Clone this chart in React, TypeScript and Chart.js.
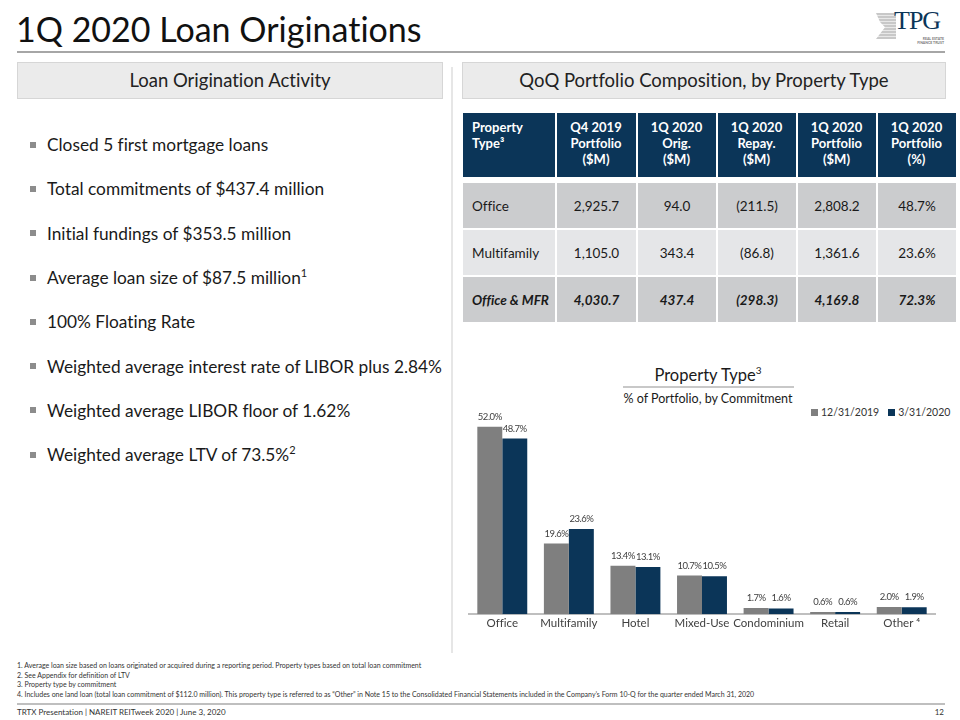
import React, { useEffect, useRef } from "react";
import { Chart, registerables } from "chart.js";

Chart.register(...registerables);

const categories = ["Office", "Multifamily", "Hotel", "Mixed-Use", "Condominium", "Retail", "Other ⁴"];
const dec2019 = [52.0, 19.6, 13.4, 10.7, 1.7, 0.6, 2.0];
const mar2020 = [48.7, 23.6, 13.1, 10.5, 1.6, 0.6, 1.9];
const seriesNames = ["12/31/2019", "3/31/2020"];

const bullets = [
  ["Closed 5 first mortgage loans", ""],
  ["Total commitments of $437.4 million", ""],
  ["Initial fundings of $353.5 million", ""],
  ["Average loan size of $87.5 million", "1"],
  ["100% Floating Rate", ""],
  ["Weighted average interest rate of LIBOR plus 2.84%", ""],
  ["Weighted average LIBOR floor of 1.62%", ""],
  ["Weighted average LTV of 73.5%", "2"],
];

const tableHeaders = [
  ["Property", "Type³"],
  ["Q4 2019", "Portfolio", "($M)"],
  ["1Q 2020", "Orig.", "($M)"],
  ["1Q 2020", "Repay.", "($M)"],
  ["1Q 2020", "Portfolio", "($M)"],
  ["1Q 2020", "Portfolio", "(%)"],
];
const rowOffice = ["Office", "2,925.7", "94.0", "(211.5)", "2,808.2", "48.7%"];
const rowMultifamily = ["Multifamily", "1,105.0", "343.4", "(86.8)", "1,361.6", "23.6%"];
const rowTotal = ["Office & MFR", "4,030.7", "437.4", "(298.3)", "4,169.8", "72.3%"];

const footnotes = [
  "1. Average loan size based on loans originated or acquired during a reporting period. Property types based on total loan commitment",
  "2. See Appendix for definition of LTV",
  "3. Property type by commitment",
  "4. Includes one land loan (total loan commitment of $112.0 million). This property type is referred to as “Other” in Note 15 to the Consolidated Financial Statements included in the Company’s Form 10-Q for the quarter ended March 31, 2020",
];

const GREY = "#7f7f7f";
const NAVY = "#0b3558";
const FONT = "Lato, 'Open Sans', sans-serif";

const labelPlugin = {
  id: "barLabels",
  afterDatasetsDraw(chart: any) {
    const ctx = chart.ctx;
    ctx.save();
    ctx.font = `9.5px ${FONT}`;
    try { (ctx as any).letterSpacing = "-0.5px"; } catch (e) {}
    ctx.fillStyle = "#404040";
    ctx.textAlign = "center";
    ctx.textBaseline = "middle";
    chart.data.datasets.forEach((ds: any, i: number) => {
      const meta = chart.getDatasetMeta(i);
      meta.data.forEach((bar: any, j: number) => {
        ctx.fillText(ds.data[j].toFixed(1) + "%", bar.x, bar.y - 10);
      });
    });
    ctx.restore();
  },
};

function BarChart() {
  const ref = useRef<HTMLCanvasElement | null>(null);
  useEffect(() => {
    if (!ref.current) return;
    const chart = new Chart(ref.current, {
      type: "bar",
      data: {
        labels: categories,
        datasets: [
          { label: seriesNames[0], data: dec2019, backgroundColor: GREY, categoryPercentage: 0.75, barPercentage: 1 },
          { label: seriesNames[1], data: mar2020, backgroundColor: NAVY, categoryPercentage: 0.75, barPercentage: 1 },
        ],
      },
      options: {
        animation: false,
        responsive: false,
        maintainAspectRatio: false,
        layout: { padding: { left: 7, right: 10, top: 0, bottom: 0 } },
        plugins: { legend: { display: false }, tooltip: { enabled: false } },
        scales: {
          x: {
            grid: { display: false, drawTicks: false },
            border: { display: true, color: "#bfbfbf", width: 2 },
            ticks: { color: "#404040", font: { family: FONT, size: 11.5 }, padding: 2, maxRotation: 0, autoSkip: false },
          },
          y: { display: false, min: 0, max: 58.0 },
        },
      },
      plugins: [labelPlugin],
    });
    return () => chart.destroy();
  }, []);
  return <canvas ref={ref} width={483} height={227} style={{ position: "absolute", left: 462, top: 405, width: 483, height: 227 }} />;
}

const abs = (l: number, t: number, extra: any = {}) => ({ position: "absolute" as const, left: l, top: t, ...extra });

const supStyle = { fontSize: 11, lineHeight: 0, position: "relative" as const, top: -7, verticalAlign: "baseline" };

export default function App() {
  const colW = [92, 79, 78, 78, 78, 78];
  const cellBase = { padding: 0, border: "none", fontSize: 13.5, color: "#1a1a1a" };
  const renderRow = (row: string[], bg: string, h: number, italicBold = false) => (
    <tr style={{ height: h }}>
      {row.map((c, i) => (
        <td
          key={i}
          style={{
            ...cellBase,
            background: bg,
            textAlign: i === 0 ? "left" : "center",
            paddingLeft: i === 0 ? 9 : 0,
            fontWeight: italicBold ? 700 : 400,
            fontStyle: italicBold ? "italic" : "normal",
          }}
        >
          {c}
        </td>
      ))}
    </tr>
  );
  return (
    <div style={{ position: "fixed", left: 0, top: 0, width: 960, height: 720, background: "#fff", fontFamily: FONT, color: "#1a1a1a", overflow: "hidden", fontVariantLigatures: "none" }}>
      {/* Title */}
      <div style={abs(16, 5, { fontSize: 34, lineHeight: "48px", color: "#111" })}>1Q 2020 Loan Originations</div>
      <div style={abs(17, 51, { width: 928, height: 2, background: "#a6a6a6" })} />

      {/* Logo */}
      <div style={abs(876, 13, { width: 20, height: 26, background: "repeating-linear-gradient(180deg,#c8c8c8 0 2px,#e8e8e8 2px 3px)", clipPath: "polygon(0 0,100% 0,100% 100%,0 100%,45% 55%,20% 35%)" })} />
      <div style={abs(894, 7, { fontFamily: "'Liberation Serif', serif", fontSize: 26, lineHeight: "27px", color: NAVY, letterSpacing: -1 })}>TPG</div>
      <div style={abs(906, 37, { fontSize: 3.5, lineHeight: "4px", color: "#777", textAlign: "right", width: 38, fontWeight: 700 })}>REAL ESTATE<br />FINANCE TRUST</div>

      {/* Section headers */}
      <div style={abs(17, 62, { width: 424, height: 35, background: "#ebebeb", border: "1px solid #d6d6d6", textAlign: "center", lineHeight: "35px", fontSize: 18.5, color: "#222" })}>Loan Origination Activity</div>
      <div style={abs(462, 62, { width: 482, height: 35, background: "#ebebeb", border: "1px solid #d6d6d6", textAlign: "center", lineHeight: "35px", fontSize: 18.5, color: "#222" })}>QoQ Portfolio Composition, by Property Type</div>
      <div style={abs(451, 67, { width: 2, height: 586, background: "#e6e6e6" })} />

      {/* Bullets */}
      {bullets.map((b, i) => (
        <div key={i} style={abs(30, 134 + i * 44.3, { fontSize: 17.3, lineHeight: "22px", height: 22, color: "#1a1a1a", whiteSpace: "nowrap" })}>
          <span style={{ display: "inline-block", width: 6, height: 6, background: "#8c8c8c", marginRight: 11, verticalAlign: "middle", position: "relative", top: -2 }} />
          {b[0]}
          {b[1] && <span style={supStyle}>{b[1]}</span>}
        </div>
      ))}

      {/* Table */}
      <table style={{ position: "absolute", left: 461, top: 111, borderCollapse: "separate", borderSpacing: 2, tableLayout: "fixed", width: 487 }}>
        <colgroup>
          {colW.map((w, i) => <col key={i} style={{ width: w }} />)}
        </colgroup>
        <tbody>
          <tr style={{ height: 64 }}>
            {tableHeaders.map((h, i) => (
              <td key={i} style={{ background: NAVY, color: "#fff", fontWeight: 700, fontSize: 13, lineHeight: "16px", textAlign: i === 0 ? "left" : "center", verticalAlign: "top", paddingTop: 6, paddingLeft: i === 0 ? 9 : 0, border: "none" }}>
                {h.map((line, k) => <div key={k}>{line}</div>)}
              </td>
            ))}
          </tr>
          <tr style={{ height: 2 }}><td colSpan={6} style={{ padding: 0, height: 0, background: "#fff" }} /></tr>
          {renderRow(rowOffice, "#cbccce", 45)}
          {renderRow(rowMultifamily, "#e5e6e8", 45)}
          {renderRow(rowTotal, "#cbccce", 45, true)}
        </tbody>
      </table>

      {/* Chart titles */}
      <div style={abs(608, 364, { width: 200, textAlign: "center", fontSize: 16.5, lineHeight: "22px", height: 22, color: "#1a1a1a" })}>
        Property Type<span style={{ fontSize: 10, lineHeight: 0, position: "relative", top: -7 }}>3</span>
      </div>
      <div style={abs(623, 386, { width: 171, height: 2, background: "#c8c8c8" })} />
      <div style={abs(608, 391, { width: 200, textAlign: "center", fontSize: 12.5, lineHeight: "16px", color: "#1a1a1a" })}>% of Portfolio, by Commitment</div>

      {/* Legend */}
      <div style={abs(811, 405, { fontSize: 10.5, lineHeight: "14px", color: "#333", whiteSpace: "nowrap", display: "flex", alignItems: "center" })}>
        <span style={{ display: "inline-block", width: 7, height: 7, background: GREY, marginRight: 3 }} />
        <span>{seriesNames[0]}</span>
        <span style={{ display: "inline-block", width: 7, height: 7, background: NAVY, marginLeft: 9, marginRight: 3 }} />
        <span>{seriesNames[1]}</span>
      </div>

      <BarChart />

      {/* Footnotes */}
      {footnotes.map((f, i) => (
        <div key={i} style={abs(17, 661 + i * 9.6, { fontSize: 7, lineHeight: "9px", color: "#333", whiteSpace: "nowrap" })}>{f}</div>
      ))}
      <div style={abs(17, 703, { width: 928, height: 2, background: "#bfbfbf" })} />
      <div style={abs(17, 707, { fontSize: 8, lineHeight: "10px", color: "#333" })}>TRTX Presentation | NAREIT REITweek 2020 | June 3, 2020</div>
      <div style={abs(930, 707, { fontSize: 8, lineHeight: "10px", color: "#333", width: 14, textAlign: "right" })}>12</div>
    </div>
  );
}
